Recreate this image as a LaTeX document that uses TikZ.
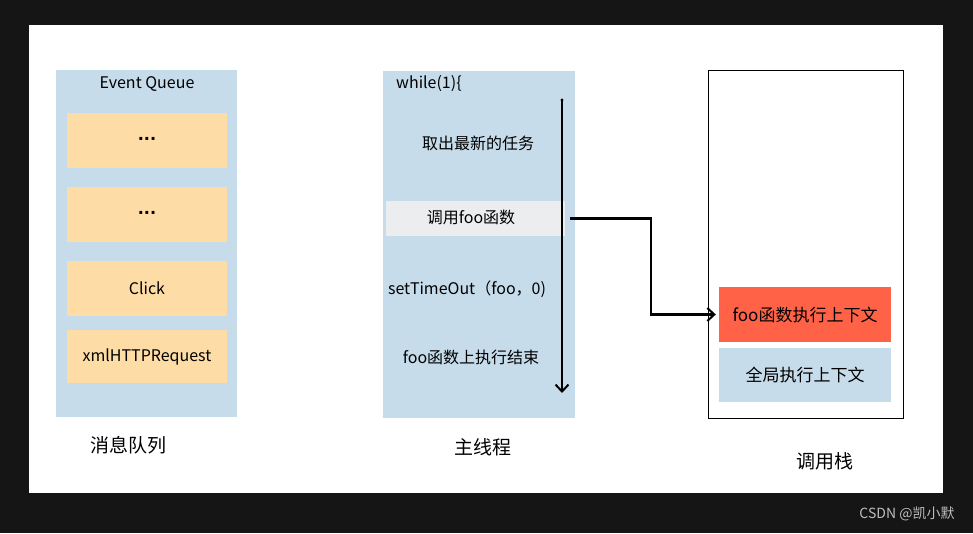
\documentclass[tikz,border=0pt]{standalone}
\usepackage{fontspec}
\setmainfont{Noto Sans CJK SC}
\newfontfamily\dotfont{DejaVu Sans}
\usetikzlibrary{arrows.meta}
\definecolor{pageblack}{HTML}{151515}
\definecolor{panelblue}{HTML}{C6DCEB}
\definecolor{qorange}{HTML}{FDDCA5}
\definecolor{hlgray}{HTML}{EBEDEE}
\definecolor{ctxred}{HTML}{FF6247}
\definecolor{wmgray}{HTML}{BDBDBD}
\tikzset{
  panel/.style={fill=panelblue, draw=none, inner sep=0pt},
  qbox/.style={fill=qorange, draw=none, minimum width=160pt, minimum height=55pt, inner sep=0pt, font=\fontsize{16}{18}\selectfont},
  ctx/.style={draw=none, minimum width=172pt, minimum height=55pt, inner sep=0pt, font=\fontsize{17}{19}\selectfont},
  lbl/.style={inner sep=0pt, font=\fontsize{16}{18}\selectfont},
  caption/.style={inner sep=0pt, font=\fontsize{19}{21}\selectfont},
  thick arrow/.style={line width=2pt, -{Straight Barb[length=7pt,width=13pt,line width=2pt]}},
}
\begin{document}
\begin{tikzpicture}[x=1pt,y=-1pt]
\useasboundingbox (0,0) rectangle (973,533);
\fill[pageblack] (0,0) rectangle (973,533);
\fill[white] (29,25) rectangle (943,493);
% Event queue
\node[panel, minimum width=181pt, minimum height=347pt] (eq) at (146.5,243.5) {};
\node[lbl] (eqt) at (147,84) {Event Queue};
\node[qbox] (q1) at (147,140.5) {\dotfont\bfseries ···};
\node[qbox] (q2) at (147,214.5) {\dotfont\bfseries ···};
\node[qbox] (q3) at (147,288.5) {Click};
\node[qbox, minimum height=53pt] (q4) at (147,356.5) {xmlHTTPRequest};
\node[caption] (eql) at (128,445) {消息队列};
% Main thread
\node[panel, minimum width=192pt, minimum height=347pt] (mt) at (479,244.5) {};
\node[lbl, anchor=west] (wh) at (396,84) {while(1)\{};
\node[lbl] (t1) at (478,143) {取出最新的任务};
\node[fill=hlgray, minimum width=179pt, minimum height=35pt, inner sep=0pt] (hl) at (475.5,218.5) {};
\node[lbl] (t2) at (471,217) {调用foo函数};
\node[lbl] (t3) at (467,289) {setTimeOut（foo，0)};
\node[lbl] (t4) at (471,357) {foo函数上执行结束};
\coordinate (ltop) at (562,100);
\coordinate (lbot) at (562,393);
\fill (ltop) circle (1.6pt);
\draw[thick arrow] (ltop) -- (lbot);
\node[caption] (mtl) at (483,447) {主线程};
% Call stack
\node[draw=black, line width=1pt, minimum width=195pt, minimum height=348pt, inner sep=0pt] (cs) at (805.5,244) {};
\node[ctx, fill=ctxred] (red) at (805,314.5) {foo函数执行上下文};
\node[ctx, fill=panelblue, minimum height=54pt] (blue) at (805,375) {全局执行上下文};
\node[caption] (csl) at (825,461) {调用栈};
% connector
\draw[thick arrow, line width=2.2pt, shorten >=3pt] ([xshift=5pt]hl.east) -- ++(81,0) |- (red.west);
% watermark
\node[inner sep=0pt, text=wmgray, font=\fontsize{14}{16}\selectfont] (wm) at (907,514) {CSDN @凯小默};
\end{tikzpicture}
\end{document}
